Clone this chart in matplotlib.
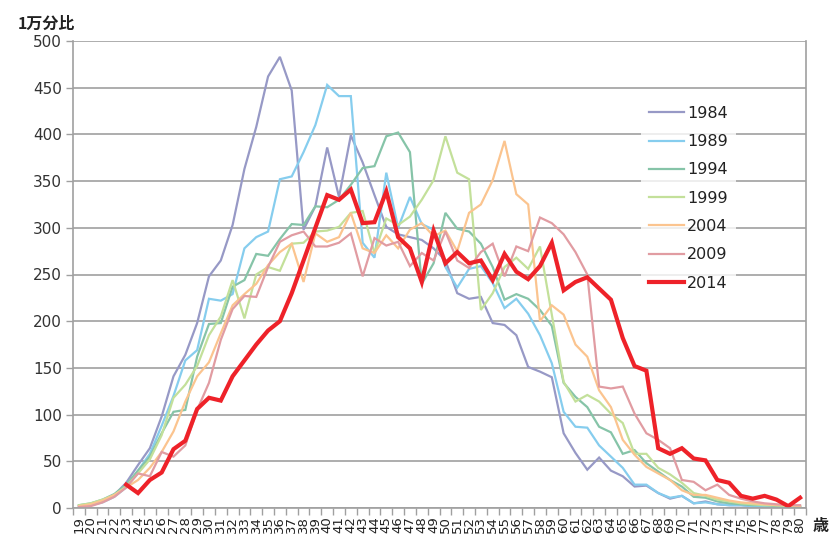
import numpy as np
import matplotlib
matplotlib.use("Agg")
import matplotlib.pyplot as plt
from matplotlib.ticker import MultipleLocator

plt.rcParams['font.family'] = ['DejaVu Sans', 'Noto Sans CJK JP']

ages = list(range(19, 81))

v1984 = [2, 3, 7, 14, 27, 46, 64, 98, 141, 164, 198, 248, 265, 303, 363, 408, 462, 483, 447, 298,
         323, 386, 333, 399, 370, 335, 301, 293, 290, 287, 278, 265, 230, 224, 226, 198, 196, 185, 151, 146,
         140, 80, 59, 41, 54, 40, 34, 23, 24, 16, 10, 13, 5, 7, 4, 3, 3, 2, 2, 1, 1, 1]
v1989 = [2, 3, 6, 12, 22, 40, 58, 88, 120, 158, 169, 224, 222, 229, 278, 290, 296, 352, 355, 381,
         410, 453, 441, 441, 284, 268, 359, 300, 333, 304, 298, 258, 236, 256, 259, 241, 214, 224, 208, 185,
         155, 103, 87, 86, 67, 55, 43, 25, 25, 16, 11, 13, 5, 6, 4, 3, 3, 2, 2, 1, 1, 1]
v1994 = [3, 5, 9, 15, 25, 40, 55, 80, 103, 105, 162, 197, 198, 237, 244, 272, 270, 288, 304, 303,
         323, 322, 330, 346, 364, 366, 398, 402, 381, 240, 262, 316, 299, 296, 283, 258, 223, 229, 224, 212,
         195, 134, 119, 108, 87, 81, 58, 62, 48, 39, 30, 23, 12, 11, 7, 5, 4, 3, 3, 2, 2, 1]
v1999 = [3, 5, 9, 14, 23, 37, 52, 78, 118, 132, 152, 185, 205, 244, 203, 250, 258, 254, 283, 284,
         296, 297, 301, 316, 318, 273, 310, 303, 312, 330, 351, 398, 359, 352, 212, 230, 258, 268, 256, 280,
         207, 135, 114, 121, 114, 101, 91, 58, 58, 43, 36, 27, 16, 13, 9, 7, 5, 4, 3, 3, 2, 2]
v2004 = [2, 4, 8, 14, 22, 30, 43, 60, 82, 114, 141, 156, 187, 217, 229, 240, 260, 274, 283, 242,
         294, 285, 290, 316, 278, 273, 292, 278, 298, 305, 291, 297, 275, 316, 325, 351, 393, 336, 325, 200,
         217, 207, 175, 162, 126, 108, 73, 57, 44, 37, 30, 19, 14, 14, 11, 8, 6, 5, 4, 3, 3, 2]
v2009 = [1, 2, 6, 12, 22, 37, 34, 60, 55, 67, 105, 134, 180, 213, 227, 226, 258, 285, 292, 296,
         280, 280, 284, 294, 248, 289, 281, 285, 259, 273, 265, 296, 265, 257, 274, 283, 248, 280, 275, 311,
         305, 293, 274, 250, 130, 128, 130, 101, 80, 73, 64, 30, 28, 19, 25, 14, 10, 7, 5, 4, 3, 3]
v2014 = [np.nan, np.nan, np.nan, np.nan, 25, 16, 30, 38, 63, 72, 106, 118, 115, 141, 158, 175, 190, 200, 230, 265,
         300, 335, 330, 341, 305, 306, 339, 290, 278, 242, 297, 262, 274, 262, 265, 244, 272, 253, 245, 259,
         284, 233, 242, 247, 235, 223, 182, 152, 147, 64, 58, 64, 53, 51, 30, 27, 13, 10, 13, 9, 2, 11]

series = [
    ("1984", v1984, "#9799c6", 1.6),
    ("1989", v1989, "#86cdee", 1.6),
    ("1994", v1994, "#86c4a8", 1.6),
    ("1999", v1999, "#c3e09a", 1.6),
    ("2004", v2004, "#fbc48f", 1.6),
    ("2009", v2009, "#e19ca2", 1.6),
    ("2014", v2014, "#ee2229", 3.0),
]

fig = plt.figure(figsize=(8.32, 5.35), dpi=100)
ax = fig.add_axes([73 / 832, 1 - 508 / 535, (806 - 73) / 832, (508 - 41) / 535])

x = np.arange(len(ages))
for label, vals, color, lw in series:
    ax.plot(x, vals, color=color, lw=lw, label=label, solid_joinstyle='miter')

ax.set_xlim(-0.5, len(ages) - 0.5)
ax.set_ylim(0, 500)
ax.yaxis.set_major_locator(MultipleLocator(50))
ax.grid(axis='y', color='#a0a0a0', lw=1.2)
ax.set_axisbelow(True)

ax.set_xticks(x)
ax.set_xticklabels([str(a) for a in ages], rotation=90, fontsize=9.5, color='#222222')
ax.set_xticks(np.arange(len(ages) + 1) - 0.5, minor=True)
ax.tick_params(axis='x', which='major', length=0, pad=6)
ax.tick_params(axis='x', which='minor', length=5, color='#a0a0a0', width=1)
ax.tick_params(axis='y', length=5, color='#a0a0a0', width=1, labelsize=11, labelcolor='#333333', pad=3)

for side in ['left', 'bottom', 'right']:
    ax.spines[side].set_color('#a0a0a0')
    ax.spines[side].set_linewidth(1.2)
ax.spines['top'].set_visible(False)

leg = ax.legend(loc='upper left', bbox_to_anchor=(641 / 832, 1 - 98 / 535),
                bbox_transform=fig.transFigure, frameon=True, fontsize=11.5,
                handlelength=2.2, handletextpad=0.2, labelspacing=0.83,
                borderpad=0.5, borderaxespad=0, fancybox=False)
leg.get_frame().set_facecolor('white')
leg.get_frame().set_edgecolor('none')
for t in leg.get_texts():
    t.set_color('#222222')

fig.text(18 / 832, 1 - 24 / 535, "1万分比", fontsize=11.5, fontweight='bold',
         va='center', ha='left', family=['Noto Sans CJK JP', 'DejaVu Sans'], color='#222222')
fig.text(813 / 832, 1 - 526 / 535, "歳", fontsize=11.5, fontweight='bold',
         va='center', ha='left', family=['Noto Sans CJK JP', 'DejaVu Sans'], color='#222222')

fig.savefig("out.png", dpi=100)
